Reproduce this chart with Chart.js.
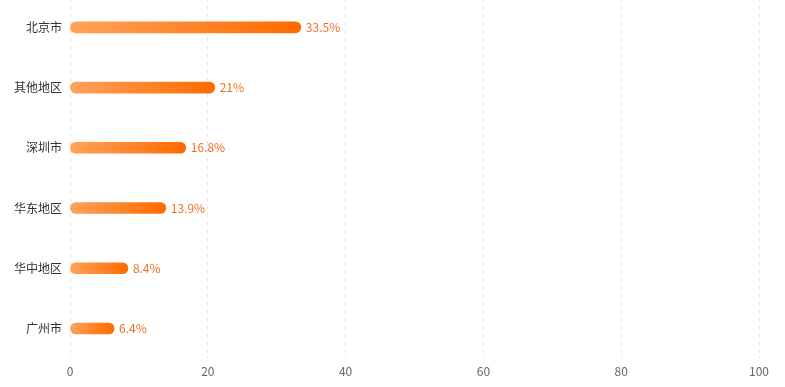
<!DOCTYPE html>
<html>
<head>
<meta charset="utf-8">
<script src="https://cdn.jsdelivr.net/npm/chart.js@4"></script>
<style>
  html, body { margin: 0; padding: 0; background: #fff; overflow: hidden; }
  #wrap { width: 785px; height: 405px; margin-top: -18px; }
</style>
</head>
<body>
<div id="wrap"><canvas id="chart"></canvas></div>
<script>
const categories = ['北京市', '其他地区', '深圳市', '华东地区', '华中地区', '广州市'];
const shares = [33.5, 21, 16.8, 13.9, 8.4, 6.4];
const shareLabels = ['33.5%', '21%', '16.8%', '13.9%', '8.4%', '6.4%'];
const xTicks = [0, 20, 40, 60, 80, 100];

const FONT = '"Noto Sans CJK SC", "Noto Sans", sans-serif';

// value labels at the end of each bar
const endLabels = {
  id: 'endLabels',
  afterDatasetsDraw(chart) {
    const ctx = chart.ctx;
    const meta = chart.getDatasetMeta(0);
    ctx.save();
    ctx.font = '12px ' + FONT;
    ctx.fillStyle = '#f07020';
    ctx.textAlign = 'left';
    ctx.textBaseline = 'middle';
    meta.data.forEach((bar, i) => {
      ctx.fillText(shareLabels[i], bar.x + 5, bar.y);
    });
    ctx.restore();
  }
};

function barGradient(context) {
  const chart = context.chart;
  const xs = chart.scales.x;
  if (!chart.chartArea || !xs) return '#ff7a1a';
  const v = context.raw;
  const x0 = xs.getPixelForValue(0);
  const x1 = xs.getPixelForValue(v);
  const g = chart.ctx.createLinearGradient(x0, 0, x1, 0);
  g.addColorStop(0, '#ffa35a');
  g.addColorStop(1, '#ff6a00');
  return g;
}

new Chart(document.getElementById('chart'), {
  type: 'bar',
  data: {
    labels: categories,
    datasets: [{
      data: shares,
      backgroundColor: barGradient,
      borderRadius: 6,
      borderSkipped: false,
      barThickness: 11,
    }],
  },
  plugins: [endLabels],
  options: {
    indexAxis: 'y',
    responsive: true,
    maintainAspectRatio: false,
    animation: false,
    layout: { padding: { top: 0, right: 26, left: 6, bottom: 2 } },
    plugins: {
      legend: { display: false },
      tooltip: { enabled: false },
    },
    scales: {
      x: {
        min: 0,
        max: 100,
        afterBuildTicks(axis) {
          axis.ticks = xTicks.map(v => ({ value: v }));
        },
        border: { display: false, dash: [4, 4] },
        grid: { color: '#e4e4e4', drawTicks: false },
        ticks: { color: '#666', font: { family: FONT, size: 12 }, padding: 6 },
      },
      y: {
        border: { display: false },
        grid: { display: false, drawTicks: false },
        ticks: { color: '#333', font: { family: FONT, size: 12 }, padding: 8 },
      },
    },
  },
});
</script>
</body>
</html>
